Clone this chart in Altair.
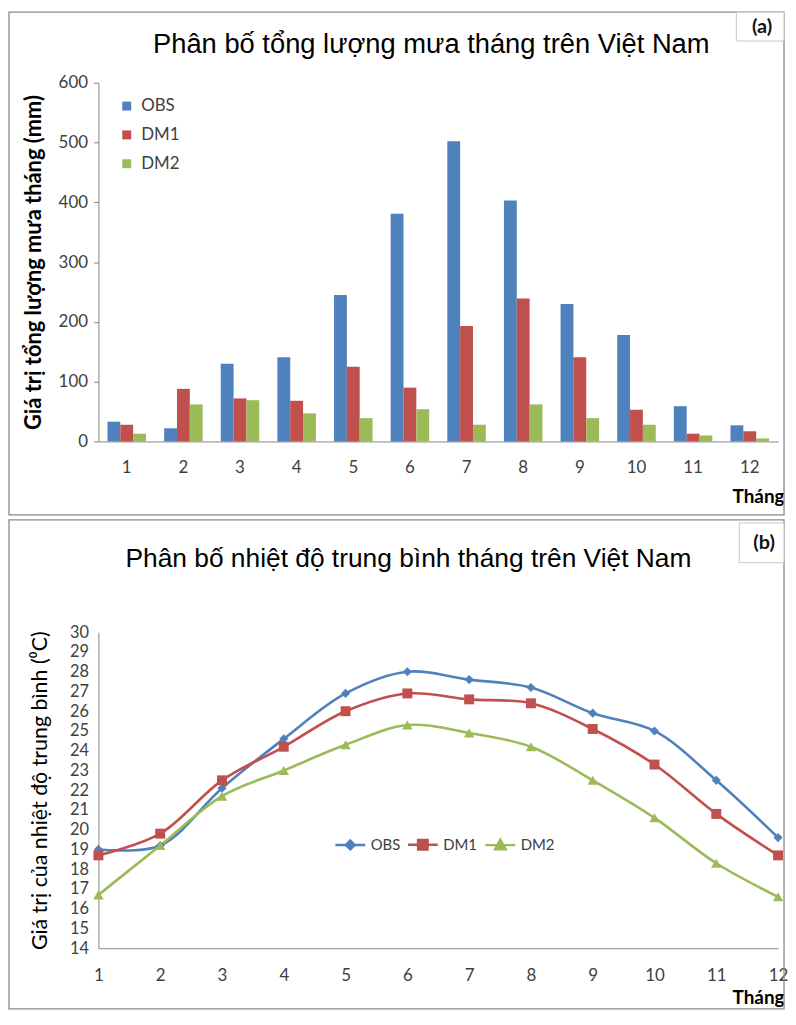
import altair as alt
import pandas as pd

# ---------------- data ----------------
months = [1, 2, 3, 4, 5, 6, 7, 8, 9, 10, 11, 12]
series = ["OBS", "DM1", "DM2"]
colors = ["#4F81BD", "#C0504D", "#9BBB59"]

rain_obs = [33, 22, 130, 141, 245, 381, 502, 403, 230, 178, 59, 27]
rain_dm1 = [28, 88, 72, 68, 125, 90, 193, 239, 141, 53, 13, 17]
rain_dm2 = [13, 62, 69, 47, 39, 54, 28, 62, 39, 28, 10, 5]

temp_obs = [19.0, 19.2, 22.1, 24.6, 26.9, 28.0, 27.6, 27.2, 25.9, 25.0, 22.5, 19.6]
temp_dm1 = [18.7, 19.8, 22.5, 24.2, 26.0, 26.9, 26.6, 26.4, 25.1, 23.3, 20.8, 18.7]
temp_dm2 = [16.7, 19.2, 21.7, 23.0, 24.3, 25.3, 24.9, 24.2, 22.5, 20.6, 18.3, 16.6]

rain_ticks = [0, 100, 200, 300, 400, 500, 600]
temp_ticks = list(range(14, 31))

title_a = "Phân bố tổng lượng mưa tháng trên Việt Nam"
title_b = "Phân bố nhiệt độ trung bình tháng trên Việt Nam"
ytitle_a = "Giá trị tổng lượng mưa tháng (mm)"
ytitle_b = "Giá trị của nhiệt độ trung bình (⁰C)"
xtitle = "Tháng"
tag_a = "(a)"
tag_b = "(b)"

# ---------------- tables ----------------
rain_df = pd.DataFrame({
    "month": months * 3,
    "series": [s for s in series for _ in months],
    "value": rain_obs + rain_dm1 + rain_dm2,
})
temp_df = pd.DataFrame({
    "month": months * 3,
    "series": [s for s in series for _ in months],
    "value": temp_obs + temp_dm1 + temp_dm2,
})
one = pd.DataFrame({"k": [0]})
legend_df = pd.DataFrame({"series": series})

LABEL_FONT = "Lato"
TITLE_FONT = "Liberation Sans"
AXIS_GREY = "#868686"
TEXT_GREY = "#404040"

W = 684
HA = 361
HB = 318

# ---------------- panel (a) ----------------
frame_a = alt.Chart(one).mark_rect(fill="transparent", stroke="#8a8a8a", strokeWidth=1.3).encode(
    x=alt.value(-90), x2=alt.value(690), y=alt.value(-71), y2=alt.value(435)
)
tagbox_a = alt.Chart(one).mark_rect(fill="white", stroke="#c8c8c8", strokeWidth=1).encode(
    x=alt.value(642), x2=alt.value(690), y=alt.value(-71), y2=alt.value(-42)
)
tagtext_a = alt.Chart(one).mark_text(font=LABEL_FONT, fontSize=20, fontWeight="bold", color="#111111",
                                     align="center", baseline="middle").encode(
    x=alt.value(668), y=alt.value(-56), text=alt.value(tag_a)
)
titletext_a = alt.Chart(one).mark_text(font=TITLE_FONT, fontSize=27.5, color="#000000",
                                       align="center", baseline="alphabetic").encode(
    x=alt.value(335), y=alt.value(-30), text=alt.value(title_a)
)

bars = alt.Chart(rain_df).mark_bar().encode(
    x=alt.X("month:O", sort=months,
            scale=alt.Scale(paddingInner=0.32, paddingOuter=0.16),
            axis=alt.Axis(title=xtitle, labelAngle=0, ticks=False, labelPadding=18,
                          labelFont=LABEL_FONT, labelFontSize=17, labelColor=TEXT_GREY,
                          domainColor=AXIS_GREY, domainWidth=1,
                          titleFont=LABEL_FONT, titleFontSize=19, titleFontWeight="bold",
                          titleColor="#000000", titleX=W + 6, titleY=61,
                          titleAlign="right", titleBaseline="alphabetic")),
    xOffset=alt.XOffset("series:N", sort=series, scale=alt.Scale(paddingInner=0, paddingOuter=0)),
    y=alt.Y("value:Q", scale=alt.Scale(domain=[0, 600], nice=False),
            axis=alt.Axis(values=rain_ticks, grid=False, tickSize=5, tickColor=AXIS_GREY,
                          domainColor=AXIS_GREY, labelFont=LABEL_FONT, labelFontSize=17,
                          labelColor=TEXT_GREY, labelPadding=6,
                          title=ytitle_a, titleFont=LABEL_FONT, titleFontSize=22,
                          titleFontWeight="bold", titleColor="#000000", titlePadding=13)),
    color=alt.Color("series:N", sort=series,
                    scale=alt.Scale(domain=series, range=colors),
                    legend=alt.Legend(title=None, orient="none", legendX=20, legendY=15,
                                      direction="vertical",
                                      symbolType="square", symbolSize=81, symbolStrokeWidth=0,
                                      labelFont=LABEL_FONT, labelFontSize=17, labelColor=TEXT_GREY,
                                      labelOffset=6, rowPadding=11)),
)

panel_a = alt.layer(frame_a, titletext_a, tagbox_a, tagtext_a, bars).properties(width=W, height=HA)

# ---------------- panel (b) ----------------
frame_b = alt.Chart(one).mark_rect(fill="transparent", stroke="#8a8a8a", strokeWidth=1.3).encode(
    x=alt.value(-90), x2=alt.value(690), y=alt.value(-113), y2=alt.value(379)
)
tagbox_b = alt.Chart(one).mark_rect(fill="white", stroke="#c8c8c8", strokeWidth=1).encode(
    x=alt.value(645), x2=alt.value(690), y=alt.value(-110), y2=alt.value(-70)
)
tagtext_b = alt.Chart(one).mark_text(font=LABEL_FONT, fontSize=20, fontWeight="bold", color="#111111",
                                     align="center", baseline="middle").encode(
    x=alt.value(670), y=alt.value(-90), text=alt.value(tag_b)
)
titletext_b = alt.Chart(one).mark_text(font=TITLE_FONT, fontSize=26.5, color="#000000",
                                       align="center", baseline="alphabetic").encode(
    x=alt.value(312), y=alt.value(-66), text=alt.value(title_b)
)

xb = alt.X("month:Q", scale=alt.Scale(domain=[1, 12], nice=False, zero=False),
           axis=alt.Axis(values=months, format="d", ticks=False, grid=False, labelFlush=False,
                         labelPadding=20, labelFont=LABEL_FONT, labelFontSize=17, labelColor=TEXT_GREY,
                         domainColor=AXIS_GREY,
                         title=xtitle, titleFont=LABEL_FONT, titleFontSize=19, titleFontWeight="bold",
                         titleColor="#000000", titleX=W + 6, titleY=56,
                         titleAlign="right", titleBaseline="alphabetic"))
yb = alt.Y("value:Q", scale=alt.Scale(domain=[14, 30], nice=False, zero=False),
           axis=alt.Axis(values=temp_ticks, ticks=False, grid=False, labelPadding=10,
                         labelFont=LABEL_FONT, labelFontSize=16.5, labelColor=TEXT_GREY,
                         domainColor=AXIS_GREY,
                         title=ytitle_b, titleFont=LABEL_FONT, titleFontSize=21.5,
                         titleFontWeight="normal", titleColor="#000000", titlePadding=18))

shapes_plot = {"OBS": ("diamond", 85), "DM1": ("square", 100), "DM2": ("triangle-up", 110)}
series_layers = []
for s, col in zip(series, colors):
    base = alt.Chart(temp_df).transform_filter(alt.datum.series == s)
    series_layers.append(
        base.mark_line(interpolate="catmull-rom", strokeWidth=2.6, color=col).encode(x=xb, y=yb)
    )
for s, col in zip(series, colors):
    shp, sz = shapes_plot[s]
    base = alt.Chart(temp_df).transform_filter(alt.datum.series == s)
    series_layers.append(
        base.mark_point(filled=True, shape=shp, size=sz, opacity=1, color=col).encode(x=xb, y=yb)
    )

legend_paths = [
    "M-5,0H5M0,-1.5L1.5,0L0,1.5L-1.5,0Z",
    "M-5,0H5M-1.6,-1.6H1.6V1.6H-1.6Z",
    "M-5,0H5M0,-1.8L1.8,1.4H-1.8Z",
]
leg_props = dict(title=None, orient="none", legendX=246, legendY=206, direction="horizontal",
                 symbolSize=36, symbolStrokeWidth=2.4, labelFont=LABEL_FONT, labelFontSize=15,
                 labelColor=TEXT_GREY, labelOffset=13, columnPadding=2)
legend_layer = alt.Chart(legend_df).mark_point(filled=True, opacity=1, clip=True).encode(
    x=alt.value(-500), y=alt.value(-500),
    fill=alt.Fill("series:N", sort=series, scale=alt.Scale(domain=series, range=colors),
                  legend=alt.Legend(**leg_props)),
    stroke=alt.Stroke("series:N", sort=series, scale=alt.Scale(domain=series, range=colors),
                      legend=alt.Legend(**leg_props)),
    shape=alt.Shape("series:N", sort=series, scale=alt.Scale(domain=series, range=legend_paths),
                    legend=alt.Legend(**leg_props)),
)

panel_b = alt.layer(frame_b, titletext_b, tagbox_b, tagtext_b, *series_layers, legend_layer).properties(
    width=W, height=HB)

chart = (
    alt.vconcat(panel_a, panel_b, spacing=3)
    .resolve_scale(color="independent", fill="independent", stroke="independent", shape="independent")
    .resolve_legend(color="independent", fill="independent", stroke="independent", shape="independent")
    .properties(padding=0)
    .configure_view(stroke=None)
)

chart.save("out.html", embed_options={"renderer": "svg", "actions": False})
